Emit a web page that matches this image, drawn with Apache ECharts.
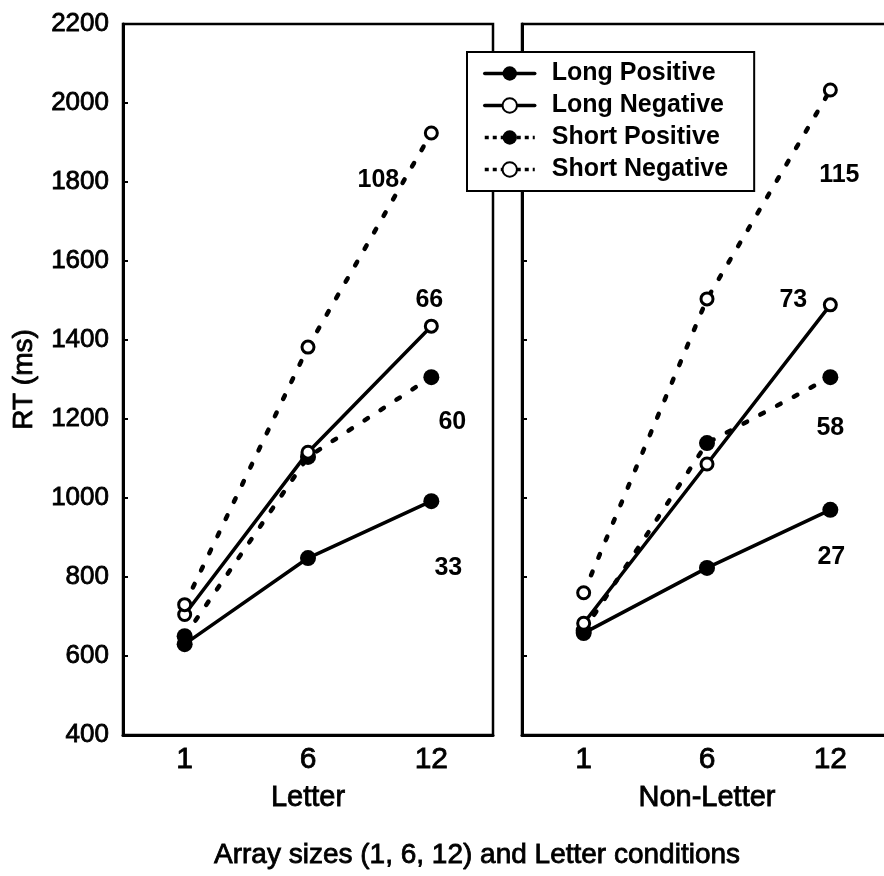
<!DOCTYPE html>
<html>
<head>
<meta charset="utf-8">
<title>RT by array size</title>
<script src="https://cdn.jsdelivr.net/npm/echarts@6/dist/echarts.min.js"></script>
<style>
  html, body { margin: 0; padding: 0; background: #fff; }
  #chart { width: 884px; height: 876px; }
</style>
</head>
<body>
<div id="chart"></div>
<script>
// Array sizes on the x axis, one panel per letter condition
const categories = ['1', '6', '12'];
const panelNames = ['Letter', 'Non-Letter'];
const seriesNames = ['Long Positive', 'Long Negative', 'Short Positive', 'Short Negative'];

// Mean RT (ms), Letter panel
const letterLongPositive = [630, 848, 992];
const letterLongNegative = [705, 1116, 1435];
const letterShortPositive = [650, 1104, 1306];
const letterShortNegative = [730, 1382, 1924];

// Mean RT (ms), Non-Letter panel
const nonLetterLongPositive = [658, 823, 970];
const nonLetterLongNegative = [683, 1086, 1489];
const nonLetterShortPositive = [664, 1139, 1306];
const nonLetterShortNegative = [760, 1504, 2033];

// Slopes (ms per item) printed next to each line
const letterSlopes = [33, 66, 60, 108];
const nonLetterSlopes = [27, 73, 58, 115];

// RT axis range
const rtMin = 400;
const rtMax = 2200;
const rtStep = 200;

const FONT = "'Liberation Sans', Arial, Helvetica, sans-serif";
// slightly heavier strokes on regular text
const INK = { textBorderColor: '#000', textBorderWidth: 0.8 };

// where each slope figure sits relative to the line's last point
const slopeOffsets = [
  { 'Long Positive': [17, 67], 'Long Negative': [-2, -26], 'Short Positive': [21, 45], 'Short Negative': [-53, 47] },
  { 'Long Positive': [1, 47], 'Long Negative': [-37, -5], 'Short Positive': [0, 51], 'Short Negative': [9, 85] }
];

const panelData = [
  [letterLongPositive, letterLongNegative, letterShortPositive, letterShortNegative],
  [nonLetterLongPositive, nonLetterLongNegative, nonLetterShortPositive, nonLetterShortNegative]
];
const panelSlopes = [letterSlopes, nonLetterSlopes];

function isDotted(name) { return name.indexOf('Short') === 0; }
function isFilled(name) { return name.indexOf('Positive') > 0; }

function makeSeries(panel, k) {
  const name = seriesNames[k];
  const values = panelData[panel][k];
  const dotted = isDotted(name);
  const filled = isFilled(name);
  const last = values.length - 1;
  return {
    type: 'line',
    name: name,
    xAxisIndex: panel,
    yAxisIndex: panel,
    data: values.map(function (v, i) {
      if (i !== last) return v;
      return {
        value: v,
        label: {
          show: true,
          position: 'inside',
          formatter: String(panelSlopes[panel][k]),
          offset: slopeOffsets[panel][name],
          color: '#000',
          fontFamily: FONT,
          fontSize: 25,
          fontWeight: 'bold'
        }
      };
    }),
    symbol: 'circle',
    symbolSize: filled ? 16 : 12,
    itemStyle: {
      color: filled ? '#000' : '#fff',
      borderColor: '#000',
      borderWidth: filled ? 0 : 3
    },
    lineStyle: {
      color: '#000',
      width: dotted ? 4.5 : 3.5,
      type: dotted ? [4, 15] : 'solid',
      cap: 'round'
    },
    label: { show: false },
    emphasis: { disabled: true },
    silent: true,
    animation: false
  };
}

// draw order: filled markers first so open circles stay visible on top
const drawOrder = [0, 2, 1, 3];
const series = [];
[0, 1].forEach(function (p) {
  drawOrder.forEach(function (k) { series.push(makeSeries(p, k)); });
});

// legend entries: dotted lines use a tighter dash in the key
const legendData = seriesNames.map(function (name) {
  return isDotted(name)
    ? { name: name, lineStyle: { type: [4, 4], width: 3.5, cap: 'butt' } }
    : { name: name, lineStyle: { width: 3.5 } };
});

const gridTop = 24;
const gridHeight = 711;
const panelWidth = 370;

function xAxis(panel) {
  return {
    type: 'category',
    gridIndex: panel,
    data: categories,
    boundaryGap: true,
    name: panelNames[panel],
    nameLocation: 'middle',
    nameGap: 48,
    nameTextStyle: Object.assign({ color: '#000', fontFamily: FONT, fontSize: 29 }, INK),
    axisLine: { lineStyle: { color: '#000', width: 3 } },
    axisTick: { inside: true, length: 5, alignWithLabel: true, lineStyle: { color: '#000', width: 2 } },
    axisLabel: Object.assign({ color: '#000', fontFamily: FONT, fontSize: 30, margin: 10 }, INK),
    splitLine: { show: false }
  };
}

function yAxis(panel) {
  return {
    type: 'value',
    gridIndex: panel,
    min: rtMin,
    max: rtMax,
    interval: rtStep,
    name: panel === 0 ? 'RT (ms)' : '',
    nameLocation: 'middle',
    nameGap: 85,
    nameTextStyle: Object.assign({ color: '#000', fontFamily: FONT, fontSize: 28 }, INK),
    axisLine: { show: true, lineStyle: { color: '#000', width: 3 } },
    axisTick: { show: true, inside: true, length: 5, lineStyle: { color: '#000', width: 2 } },
    axisLabel: Object.assign({
      show: panel === 0, color: '#000', fontFamily: FONT, fontSize: 26, margin: 14,
      formatter: function (v) { return String(v); }
    }, INK),
    splitLine: { show: false }
  };
}

const chart = echarts.init(document.getElementById('chart'), null, { renderer: 'canvas' });
chart.setOption({
  backgroundColor: '#fff',
  animation: false,
  title: {
    text: 'Array sizes (1, 6, 12) and Letter conditions',
    left: 472,
    top: 836,
    textAlign: 'center',
    textStyle: Object.assign({ color: '#000', fontFamily: FONT, fontSize: 28, fontWeight: 'normal' }, INK)
  },
  legend: {
    data: legendData,
    orient: 'vertical',
    left: 467,
    top: 52,
    backgroundColor: '#fff',
    borderColor: '#000',
    borderWidth: 2,
    borderRadius: 0,
    padding: [9, 26, 9, 16],
    itemWidth: 50,
    itemHeight: 18,
    itemGap: 7,
    selectedMode: false,
    textStyle: { color: '#000', fontFamily: FONT, fontSize: 25, fontWeight: 'bold', lineHeight: 25, padding: [0, 0, 0, 12] }
  },
  grid: [
    { left: 123, top: gridTop, width: panelWidth, height: gridHeight, outerBoundsMode: 'none', show: true, borderColor: '#000', borderWidth: 2.5, backgroundColor: 'transparent' },
    { left: 522, top: gridTop, width: panelWidth, height: gridHeight, outerBoundsMode: 'none', show: true, borderColor: '#000', borderWidth: 2.5, backgroundColor: 'transparent' }
  ],
  xAxis: [xAxis(0), xAxis(1)],
  yAxis: [yAxis(0), yAxis(1)],
  series: series
});
</script>
</body>
</html>
